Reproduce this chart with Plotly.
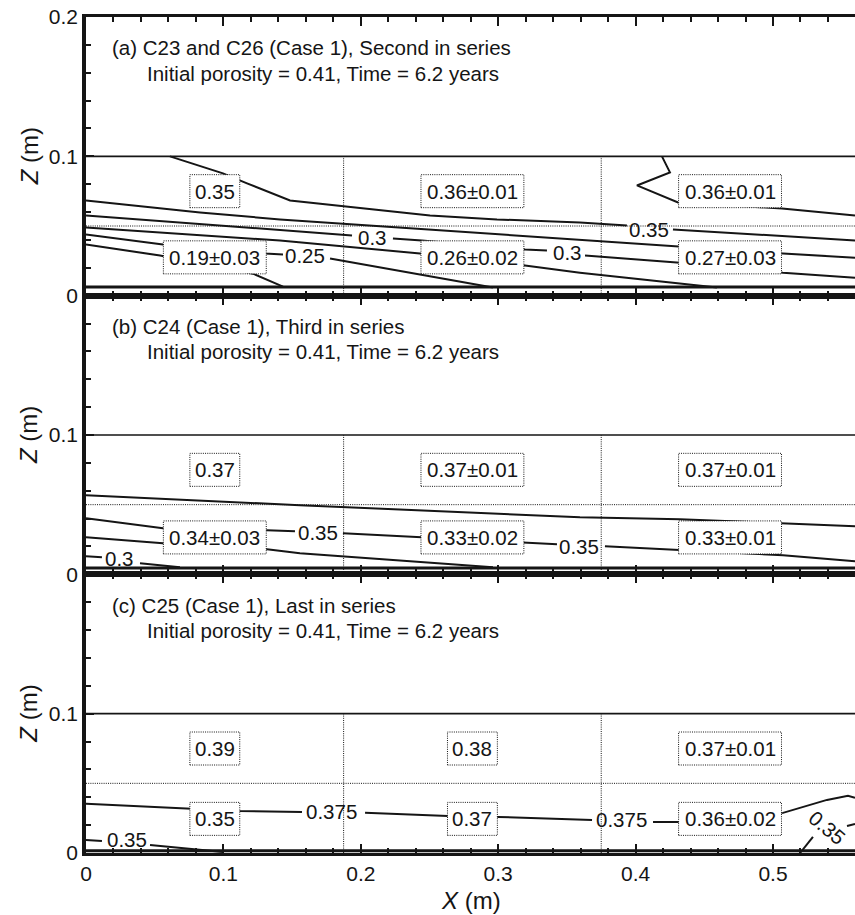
import plotly.graph_objects as go
from plotly.subplots import make_subplots

# ---------------- data ----------------
X_MAX = 0.5597
Z_MAX = 0.2
SEGMENT_BOUNDS = [0.1875, 0.375]
LAYER_TOP = 0.1
LAYER_MID = 0.05
BOX_X = [0.09375, 0.28125, 0.46875]

PANEL_TITLES = [
    "(a) C23 and C26 (Case 1), Second in series",
    "(b) C24 (Case 1), Third in series",
    "(c) C25 (Case 1), Last in series",
]
SUBTITLE = "Initial porosity = 0.41, Time = 6.2 years"
X_TITLE = "<i>X</i> (m)"
Z_TITLE = "<i>Z</i> (m)"

UPPER_BOX_TEXT = [["0.35", "0.36±0.01", "0.36±0.01"],
                  ["0.37", "0.37±0.01", "0.37±0.01"],
                  ["0.39", "0.38", "0.37±0.01"]]
LOWER_BOX_TEXT = [["0.19±0.03", "0.26±0.02", "0.27±0.03"],
                  ["0.34±0.03", "0.33±0.02", "0.33±0.01"],
                  ["0.35", "0.37", "0.36±0.02"]]
UPPER_BOX_Z = [0.075, 0.075, 0.075]
LOWER_BOX_Z = [0.0275, 0.0265, 0.0245]

Y_TICKS = [[0, 0.1, 0.2], [0, 0.1], [0, 0.1]]

# contour polylines, panel (a)
A1_X = [0.0611, 0.0997, 0.1172, 0.1485, 0.2504, 0.2991, 0.3595, 0.3937, None, 0.4272, 0.5597]
A1_Z = [0.1000, 0.0878, 0.0806, 0.0683, 0.0576, 0.0547, 0.0525, 0.0504, None, 0.0475, 0.0396]
A2_X = [0.4192, 0.4250, 0.4010, 0.4309, 0.5066, 0.5597]
A2_Z = [0.1000, 0.0885, 0.0791, 0.0669, 0.0626, 0.0576]
A3_X = [0, 0.0830, 0.1412, 0.3595, 0.4323, 0.5073, 0.5597]
A3_Z = [0.0683, 0.0597, 0.0547, 0.0403, 0.0353, 0.0302, 0.0273]
A4_X = [0, 0.1412, 0.1936, None, 0.2234, 0.2445, 0.3195, 0.3355, None, 0.3632, 0.4323, 0.5073, 0.5597]
A4_Z = [0.0576, 0.0468, 0.0432, None, 0.0410, 0.0396, 0.0331, 0.0324, None, 0.0288, 0.0237, 0.0165, 0.0129]
A5_X = [0, 0.1412, 0.2431, 0.3195, 0.3595, 0.4592]
A5_Z = [0.0489, 0.0396, 0.0302, 0.0216, 0.0165, 0.0058]
A6_X = [0, 0.0560, 0.1303, 0.1434, None, 0.1776, 0.2962]
A6_Z = [0.0439, 0.0367, 0.0302, 0.0295, None, 0.0266, 0.0058]
A7_X = [0, 0.0539, 0.1215, 0.1434]
A7_Z = [0.0367, 0.0288, 0.0158, 0.0065]

# panel (b)
B1_X = [0, 0.1557, 0.3595, 0.4323, 0.5597]
B1_Z = [0.0568, 0.0496, 0.0410, 0.0396, 0.0345]
B2_X = [0, 0.0560, 0.1317, 0.1521, None, 0.1870, 0.2431, 0.3195, 0.3428, None, 0.3777, 0.4323, 0.5073, 0.5597]
B2_Z = [0.0403, 0.0331, 0.0317, 0.0309, None, 0.0295, 0.0266, 0.0223, 0.0216, None, 0.0201, 0.0173, 0.0137, 0.0094]
B3_X = [0, 0.0560, 0.1317, 0.1557, 0.2962]
B3_Z = [0.0266, 0.0223, 0.0180, 0.0151, 0.0050]
B4_X = [0, 0.0116, None, 0.0393, 0.0684]
B4_Z = [0.0129, 0.0122, None, 0.0079, 0.0050]

# panel (c)
C1_X = [0, 0.0757, 0.1114, 0.1572, None, 0.2031, 0.2635, 0.2999, 0.3683, None, 0.4127, 0.4323, 0.5073, 0.5393, 0.5546, 0.5597]
C1_Z = [0.0353, 0.0317, 0.0302, 0.0295, None, 0.0288, 0.0266, 0.0259, 0.0237, None, 0.0223, 0.0223, 0.0288, 0.0381, 0.0410, 0.0396]
C2_X = [0, 0.0116, None, 0.0466, 0.0997]
C2_Z = [0.0094, 0.0086, None, 0.0058, 0.0007]
C3_X = [0.5197, 0.5291, None, 0.5539, 0.5597]
C3_Z = [0.0, 0.0115, None, 0.0194, 0.0209]

BOTTOM_Z = [0.0062, 0.0045, 0.0016]

CONTOURS = [
    [(A1_X, A1_Z), (A2_X, A2_Z), (A3_X, A3_Z), (A4_X, A4_Z), (A5_X, A5_Z), (A6_X, A6_Z), (A7_X, A7_Z)],
    [(B1_X, B1_Z), (B2_X, B2_Z), (B3_X, B3_Z), (B4_X, B4_Z)],
    [(C1_X, C1_Z), (C2_X, C2_Z), (C3_X, C3_Z)],
]

# contour labels: text, x, z, angle
LABEL_TEXT = [["0.25", "0.3", "0.3", "0.35"],
              ["0.3", "0.35", "0.35"],
              ["0.35", "0.375", "0.375", "0.35"]]
LABEL_X = [[0.1594, 0.2082, 0.3501, 0.4098],
           [0.0247, 0.1688, 0.3588],
           [0.0298, 0.1790, 0.3894, 0.5393]]
LABEL_Z = [[0.0288, 0.0417, 0.0312, 0.0475],
           [0.0115, 0.0302, 0.0201],
           [0.0094, 0.0295, 0.0237, 0.0180]]
LABEL_ANGLE = [[0, 0, 0, 0], [0, 0, 0], [0, 0, 0, 40]]

# ---------------- style ----------------
FONT = "Liberation Sans, Arial, Helvetica, sans-serif"
INK = "#151515"
W, H = 855, 915
M_L, M_R, M_T, M_B = 86, 0, 17, 62
PLOT_W = W - M_L - M_R
PANEL_H = (H - M_T - M_B) / 3
PX_X = PLOT_W / X_MAX
PX_Z = PANEL_H / Z_MAX
DOT = "1px,1.2px"

fig = make_subplots(rows=3, cols=1, shared_xaxes=True, vertical_spacing=0)

shapes = []
annotations = []
for i in range(3):
    row = i + 1
    sfx = "" if row == 1 else str(row)
    xr, yr = "x" + sfx, "y" + sfx
    # layer lines
    fig.add_trace(go.Scatter(x=[0, X_MAX], y=[LAYER_TOP, LAYER_TOP], mode="lines",
                             line=dict(color=INK, width=1.6), hoverinfo="skip", showlegend=False),
                  row=row, col=1)
    fig.add_trace(go.Scatter(x=[0, X_MAX], y=[LAYER_MID, LAYER_MID], mode="lines",
                             line=dict(color=INK, width=1, dash=DOT), hoverinfo="skip", showlegend=False),
                  row=row, col=1)
    for sb in SEGMENT_BOUNDS:
        fig.add_trace(go.Scatter(x=[sb, sb], y=[0, LAYER_TOP], mode="lines",
                                 line=dict(color=INK, width=1, dash=DOT), hoverinfo="skip", showlegend=False),
                      row=row, col=1)
    # contours
    for cx, cz in CONTOURS[i]:
        fig.add_trace(go.Scatter(x=cx, y=cz, mode="lines", connectgaps=False,
                                 line=dict(color=INK, width=2), hoverinfo="skip", showlegend=False),
                      row=row, col=1)
    fig.add_trace(go.Scatter(x=[0, X_MAX], y=[BOTTOM_Z[i], BOTTOM_Z[i]], mode="lines",
                             line=dict(color=INK, width=3), hoverinfo="skip", showlegend=False),
                  row=row, col=1)
    # boxes
    for texts, zc in ((UPPER_BOX_TEXT[i], UPPER_BOX_Z[i]), (LOWER_BOX_TEXT[i], LOWER_BOX_Z[i])):
        for bx, t in zip(BOX_X, texts):
            wpx = 10.6 * len(t) + 7.5
            hw = wpx / 2 / PX_X
            hh = 16.5 / PX_Z
            shapes.append(dict(type="rect", xref=xr, yref=yr, x0=bx - hw, x1=bx + hw,
                               y0=zc - hh, y1=zc + hh, fillcolor="white",
                               line=dict(color=INK, width=1, dash=DOT), layer="above"))
            annotations.append(dict(x=bx, y=zc, xref=xr, yref=yr, text=t, showarrow=False,
                                    font=dict(family=FONT, size=20.5, color=INK),
                                    xanchor="center", yanchor="middle"))
    # contour labels
    for t, lx, lz, ang in zip(LABEL_TEXT[i], LABEL_X[i], LABEL_Z[i], LABEL_ANGLE[i]):
        annotations.append(dict(x=lx, y=lz, xref=xr, yref=yr, text=t, showarrow=False,
                                textangle=ang,
                                font=dict(family=FONT, size=20.5, color=INK),
                                xanchor="center", yanchor="middle"))
    # titles
    annotations.append(dict(x=0.0175, y=0.1778, xref=xr, yref=yr, text=PANEL_TITLES[i],
                            showarrow=False, xanchor="left", yanchor="middle",
                            font=dict(family=FONT, size=20.5, color=INK)))
    annotations.append(dict(x=0.043, y=0.1598, xref=xr, yref=yr, text=SUBTITLE,
                            showarrow=False, xanchor="left", yanchor="middle",
                            font=dict(family=FONT, size=20.5, color=INK)))
    # y-axis title (placed in pixels left of the axis)
    annotations.append(dict(x=-(M_L - 29) / PLOT_W, y=Z_MAX / 2, xref="paper", yref=yr,
                            text=Z_TITLE, textangle=-90, showarrow=False,
                            xanchor="center", yanchor="middle",
                            font=dict(family=FONT, size=24, color=INK)))

    fig.update_yaxes(row=row, col=1, range=[0, Z_MAX], tickmode="array", tickvals=Y_TICKS[i],
                     ticks="inside", ticklen=8, tickwidth=2, tickcolor=INK,
                     minor=dict(tickmode="linear", tick0=0, dtick=0.02, ticks="inside",
                                ticklen=5, tickwidth=2, tickcolor=INK),
                     showline=True, linewidth=3.5, linecolor=INK, mirror=False,
                     showgrid=False, zeroline=False, automargin=False,
                     tickfont=dict(family=FONT, size=21, color=INK))
    fig.update_xaxes(row=row, col=1, range=[0, X_MAX], tick0=0, dtick=0.1,
                     ticks="inside", ticklen=9, tickwidth=2, tickcolor=INK,
                     minor=dict(dtick=0.02, ticks="inside", ticklen=5, tickwidth=2, tickcolor=INK),
                     showline=True, linewidth=3, linecolor=INK, mirror="ticks",
                     showgrid=False, zeroline=False, automargin=False,
                     tickfont=dict(family=FONT, size=21, color=INK))

fig.update_xaxes(row=3, col=1, showticklabels=True)
annotations.append(dict(x=0.5, y=-(900 - (H - M_B)) / (H - M_T - M_B), xref="paper", yref="paper",
                        text=X_TITLE, showarrow=False, xanchor="center", yanchor="middle",
                        font=dict(family=FONT, size=24, color=INK)))

fig.update_layout(width=W, height=H, margin=dict(l=M_L, r=M_R, t=M_T, b=M_B, autoexpand=False),
                  paper_bgcolor="white", plot_bgcolor="white",
                  shapes=shapes, annotations=annotations, showlegend=False,
                  font=dict(family=FONT, color=INK))

fig.write_html("out.html", config={"displayModeBar": False},
               post_script="document.body.style.margin='0';document.body.style.overflow='hidden';")
